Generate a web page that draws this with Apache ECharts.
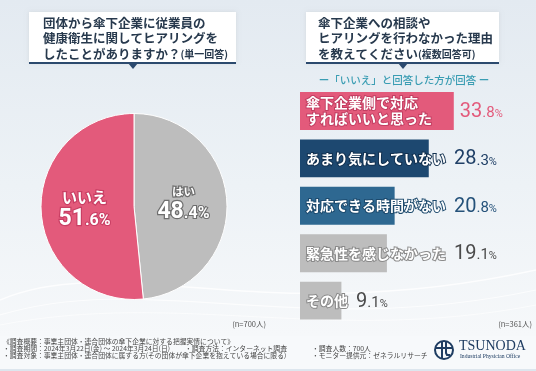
<!DOCTYPE html>
<html><head><meta charset="utf-8">
<script src="https://cdn.jsdelivr.net/npm/echarts@6/dist/echarts.min.js"></script>
<style>html,body{margin:0;padding:0;background:#fff}#main{width:536px;height:371px}</style>
</head><body><div id="main"></div>
<script>
// ---- data ----
const pieNames = ['はい', 'いいえ'];
const pieValues = [48.4, 51.6];
const categories = ['傘下企業側で対応\nすればいいと思った', 'あまり気にしていない', '対応できる時間がない', '緊急性を感じなかった', 'その他'];
const values = [33.8, 28.3, 20.8, 19.1, 9.1];
const leftTitle = ['団体から傘下企業に従業員の', '健康衛生に関してヒアリングを', 'したことがありますか？'];
const leftTitleNote = '(単一回答)';
const rightTitle = ['傘下企業への相談や', 'ヒアリングを行わなかった理由', 'を教えてください'];
const rightTitleNote = '(複数回答可)';
const subTitle = 'ー「いいえ」と回答した方が回答 ー';
const pieN = '(n=700人)';
const barN = '(n=361人)';
const footer1 = '《調査概要：事業主団体・連合団体の傘下企業に対する把握実情について》';
const footer2 = ['・調査期間：2024年3月22日(金) ～ 2024年3月24日(日)', '・調査方法：インターネット調査', '・調査人数：700人'];
const footer3 = ['・調査対象：事業主団体・連合団体に属する方(その団体が傘下企業を抱えている場合に限る)', '・モニター提供元：ゼネラルリサーチ'];

// ---- styles ----
const PINK = '#e35a7b', NAVY = '#1d4870', STEEL = '#2e6891', GRAY = '#bdbdbd';
const barColors = [PINK, NAVY, STEEL, GRAY, GRAY];
const strokeColors = ['#c23e62', '#12304f', '#1d4a6d', '#8a8a8a', '#8a8a8a'];
const valueColors = [PINK, '#1f3f66', '#25527a', '#4a4a4a', '#4a4a4a'];
const pieColors = [GRAY, PINK];
const JP = '"Noto Sans CJK JP","Noto Sans",sans-serif';
const NAME_SIZE = 14;
const nameFont = '700 ' + NAME_SIZE + 'px ' + JP;
const FOOT = '400 6.8px ' + JP;

function splitNum(v) {
  const s = v.toFixed(1).split('.');
  return [s[0], '.' + s[1]];
}

const chart = echarts.init(document.getElementById('main'), null, {renderer: 'canvas'});

const titleText = (lines, note) => lines.slice(0, 2).map(l => '{t|' + l + '}').join('\n') + '\n{t|' + lines[2] + '}{s|' + note + '}';
const titleRich = {
  t: {font: '700 12.5px ' + JP, fill: '#27394d', lineHeight: 15.5},
  s: {font: '700 10px ' + JP, fill: '#27394d', lineHeight: 15.5}
};

const wave = (x1, y1, c1x, c1y, c2x, c2y, x2, y2, a, w) => ({
  type: 'bezierCurve', z: -9,
  shape: {x1: x1, y1: y1, cpx1: c1x, cpy1: c1y, cpx2: c2x, cpy2: c2y, x2: x2, y2: y2},
  style: {stroke: 'rgba(255,255,255,' + a + ')', lineWidth: w, fill: null}
});
const foot = (x, y, t) => ({type: 'text', x: x, y: y, style: {text: t, font: FOOT, fill: '#444', verticalAlign: 'middle'}});

const graphics = [
  {type: 'rect', z: -10, shape: {x: 0, y: 0, width: 536, height: 336},
   style: {fill: new echarts.graphic.LinearGradient(0, 0, 0, 1, [{offset: 0, color: '#e3eaf1'}, {offset: 0.55, color: '#edf2f6'}, {offset: 1, color: '#f6f8fa'}])}},
  wave(0, 300, 120, 250, 260, 330, 536, 270, 0.8, 1.5),
  wave(0, 315, 150, 270, 300, 340, 536, 290, 0.7, 1.2),
  wave(0, 325, 180, 290, 330, 345, 536, 305, 0.6, 1),
  {type: 'rect', z: -10, shape: {x: 0, y: 336, width: 536, height: 35}, style: {fill: '#f7f9fb'}},
  {type: 'rect', z: -9, shape: {x: 0, y: 369, width: 536, height: 2}, style: {fill: '#dde6ee'}},
  // left title box
  {type: 'rect', shape: {x: 29, y: 12, width: 207, height: 51}, style: {fill: '#ffffff', shadowBlur: 4, shadowColor: 'rgba(0,0,0,0.08)'}},
  {type: 'rect', shape: {x: 29, y: 62, width: 207, height: 2}, style: {fill: '#2c4a6e'}},
  {type: 'polygon', shape: {points: [[128, 63], [138, 63], [133, 69]]}, style: {fill: '#2c4a6e'}},
  {type: 'text', x: 43, y: 15, style: {text: titleText(leftTitle, leftTitleNote), rich: titleRich, font: '700 12.5px ' + JP, fill: '#27394d'}},
  // right title box
  {type: 'rect', shape: {x: 306, y: 12, width: 193, height: 51}, style: {fill: '#ffffff', shadowBlur: 4, shadowColor: 'rgba(0,0,0,0.08)'}},
  {type: 'rect', shape: {x: 306, y: 62, width: 193, height: 2}, style: {fill: '#2c4a6e'}},
  {type: 'polygon', shape: {points: [[398, 63], [408, 63], [403, 69]]}, style: {fill: '#2c4a6e'}},
  {type: 'text', x: 318, y: 15, style: {text: titleText(rightTitle, rightTitleNote), rich: titleRich, font: '700 12.5px ' + JP, fill: '#27394d'}},
  {type: 'text', x: 404, y: 80, style: {text: subTitle, font: '500 10.5px ' + JP, fill: '#3a9db3', align: 'center', verticalAlign: 'middle'}},
  // n labels
  {type: 'text', x: 266, y: 324, style: {text: pieN, font: '400 7.5px ' + JP, fill: '#555', align: 'right', verticalAlign: 'middle'}},
  {type: 'text', x: 532, y: 324, style: {text: barN, font: '400 7.5px ' + JP, fill: '#555', align: 'right', verticalAlign: 'middle'}},
  // footer
  foot(3, 341.5, footer1),
  foot(3, 348.5, footer2[0]),
  foot(185, 348.5, footer2[1]),
  foot(312, 348.5, footer2[2]),
  foot(3, 355.5, footer3[0]),
  foot(312, 355.5, footer3[1]),
  // logo
  {type: 'circle', shape: {cx: 444, cy: 350, r: 9}, style: {fill: null, stroke: '#1f3d62', lineWidth: 2}},
  {type: 'line', shape: {x1: 435, y1: 348, x2: 453, y2: 348}, style: {stroke: '#1f3d62', lineWidth: 2}},
  {type: 'line', shape: {x1: 442, y1: 341, x2: 442, y2: 359}, style: {stroke: '#1f3d62', lineWidth: 2}},
  {type: 'polyline', shape: {points: [[446, 341], [446, 353], [447, 355], [450, 355]]}, style: {stroke: '#1f3d62', lineWidth: 2, fill: null}},
  {type: 'text', x: 459, y: 346, style: {text: 'TSUNODA', font: '400 14px "Liberation Serif","DejaVu Serif",serif', fill: '#1f3d62', verticalAlign: 'middle'}},
  {type: 'text', x: 460, y: 357, style: {text: 'Industrial Physician Office', font: '400 5.6px "Liberation Serif","DejaVu Serif",serif', fill: '#1f3d62', verticalAlign: 'middle'}}
];

const pieRich = (big) => ({
  n: {fontFamily: JP, fontWeight: 700, fontSize: big ? 15 : 11.5, color: '#fff', textBorderColor: big ? '#c93f64' : '#6e6e6e', textBorderWidth: 2.5, lineHeight: big ? 20 : 16},
  i: {fontFamily: 'Roboto,sans-serif', fontWeight: 700, fontSize: 23, color: '#fff', textBorderColor: big ? '#c93f64' : '#6e6e6e', textBorderWidth: 2.5, lineHeight: 24, verticalAlign: 'bottom'},
  d: {fontFamily: 'Roboto,sans-serif', fontWeight: 700, fontSize: 16, color: '#fff', textBorderColor: big ? '#c93f64' : '#6e6e6e', textBorderWidth: 2.2, lineHeight: 24, verticalAlign: 'bottom', padding: [0, 0, 2, 0]}
});

const option = {
  animation: false,
  textStyle: {fontFamily: JP},
  graphic: graphics,
  grid: {left: 300, right: 8.5, top: 87.3, bottom: 46.7},
  xAxis: {type: 'value', min: 0, max: 50, show: false},
  yAxis: {type: 'category', data: categories, inverse: true, show: false},
  series: [
    {
      type: 'pie', center: [134, 206.5], radius: 93, startAngle: 90, clockwise: true,
      itemStyle: {borderColor: '#fff', borderWidth: 1},
      data: pieNames.map((n, i) => ({
        name: n, value: pieValues[i], itemStyle: {color: pieColors[i]},
        label: {rich: pieRich(i === 1)}
      })),
      label: {
        position: 'inner', align: 'center',
        formatter: p => { const s = splitNum(p.value); return '{n|' + p.name + '}\n{i|' + s[0] + '}{d|' + s[1] + '%}'; }
      },
      labelLine: {show: false}, silent: true
    },
    {
      type: 'bar', id: 'bars', barCategoryGap: '20%',
      data: values.map((v, i) => ({value: v, itemStyle: {color: barColors[i]},
        label: {textBorderColor: strokeColors[i]}})),
      label: {
        show: true, position: 'insideLeft', distance: 6,
        formatter: p => categories[p.dataIndex],
        color: '#fff', fontFamily: JP, fontWeight: 700, fontSize: NAME_SIZE, lineHeight: 16,
        textBorderWidth: 2
      },
      z: 2, silent: true
    },
    {
      type: 'bar', id: 'vals', barCategoryGap: '20%', barGap: '-100%',
      data: values.map(v => v),
      itemStyle: {color: 'rgba(0,0,0,0)'},
      label: {show: false},
      z: 3, silent: true
    }
  ]
};
chart.setOption(option);

// place the value labels right after the category text (or after the bar end, whichever is further)
const ctx = document.createElement('canvas').getContext('2d');
ctx.font = nameFont;
const valData = values.map((v, i) => {
  const lines = categories[i].split('\n');
  const tw = Math.max.apply(null, lines.map(l => ctx.measureText(l).width));
  const x0 = chart.convertToPixel({gridIndex: 0}, [0, i])[0];
  const x1 = chart.convertToPixel({gridIndex: 0}, [v, i])[0];
  const vx = Math.max(x0 + 6 + tw + 8, x1 + 6);
  const s = splitNum(v);
  return {
    value: v,
    label: {
      show: true, position: [vx - x0, '50%'], align: 'left', verticalAlign: 'middle',
      formatter: '{i|' + s[0] + '}{d|' + s[1] + '}{p|%}',
      rich: {
        i: {fontFamily: 'Roboto,sans-serif', fontWeight: 400, fontSize: 20, color: valueColors[i], lineHeight: 22, verticalAlign: 'bottom'},
        d: {fontFamily: 'Roboto,sans-serif', fontWeight: 400, fontSize: 15, color: valueColors[i], lineHeight: 22, verticalAlign: 'bottom', padding: [0, 0, 1, 0]},
        p: {fontFamily: 'Roboto,sans-serif', fontWeight: 400, fontSize: 11, color: valueColors[i], lineHeight: 22, verticalAlign: 'bottom', padding: [0, 0, 2, 0]}
      }
    }
  };
});
chart.setOption({series: [{}, {id: 'bars'}, {id: 'vals', data: valData}]});
</script>
</body></html>
